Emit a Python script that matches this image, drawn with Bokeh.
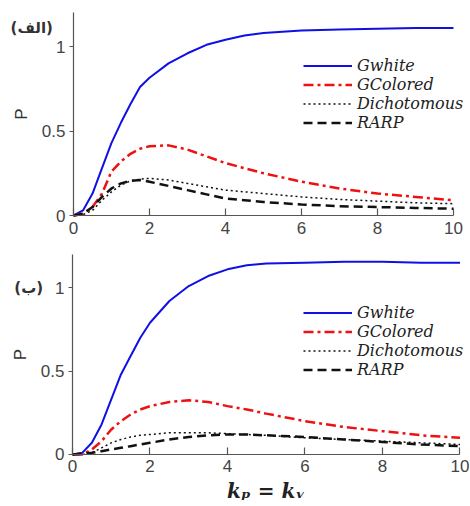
from bokeh.plotting import figure
from bokeh.models import Legend, LegendItem, Label, FixedTicker, Range1d
from bokeh.layouts import column
from bokeh.embed import file_html
from bokeh.resources import INLINE

# ---- data ----
x = [0, 0.25, 0.5, 0.75, 1, 1.25, 1.5, 1.75, 2, 2.5, 3, 3.5, 4, 4.5, 5, 6, 7, 8, 9, 10]

top_gwhite = [0, 0.03, 0.13, 0.28, 0.43, 0.55, 0.66, 0.76, 0.815, 0.90, 0.96, 1.01, 1.04, 1.065, 1.08, 1.095, 1.10, 1.105, 1.11, 1.11]
top_gcolored = [0, 0.01, 0.05, 0.13, 0.26, 0.32, 0.365, 0.395, 0.41, 0.415, 0.39, 0.35, 0.31, 0.28, 0.25, 0.20, 0.16, 0.13, 0.11, 0.09]
top_dicho = [0, 0.005, 0.03, 0.09, 0.14, 0.18, 0.205, 0.215, 0.22, 0.21, 0.19, 0.17, 0.15, 0.14, 0.13, 0.11, 0.095, 0.085, 0.075, 0.07]
top_rarp = [0, 0.01, 0.05, 0.11, 0.16, 0.19, 0.205, 0.21, 0.20, 0.175, 0.15, 0.125, 0.10, 0.09, 0.08, 0.065, 0.055, 0.05, 0.045, 0.04]

bot_gwhite = [0, 0.01, 0.07, 0.18, 0.33, 0.48, 0.59, 0.70, 0.79, 0.92, 1.01, 1.07, 1.11, 1.135, 1.145, 1.15, 1.155, 1.155, 1.15, 1.15]
bot_gcolored = [0, 0.0, 0.03, 0.08, 0.15, 0.20, 0.24, 0.27, 0.29, 0.315, 0.325, 0.315, 0.29, 0.27, 0.245, 0.20, 0.165, 0.14, 0.115, 0.10]
bot_dicho = [0, 0.0, 0.01, 0.04, 0.07, 0.09, 0.105, 0.115, 0.12, 0.13, 0.13, 0.13, 0.125, 0.12, 0.115, 0.10, 0.09, 0.08, 0.07, 0.06]
bot_rarp = [0, 0.005, 0.01, 0.02, 0.03, 0.04, 0.05, 0.06, 0.07, 0.09, 0.105, 0.115, 0.12, 0.12, 0.115, 0.105, 0.09, 0.075, 0.06, 0.05]

series_names = ["Gwhite", "GColored", "Dichotomous", "RARP"]
x_ticks = [0, 2, 4, 6, 8, 10]
y_ticks = [0, 0.5, 1]
panel_labels = ["(الف)", "(ب)"]
x_label = "kₚ = kᵥ"
y_label = "P"

styles = [
    dict(color="#1010e6", line_width=2, line_dash="solid"),
    dict(color="#ee1111", line_width=2.5, line_dash="10 4 3 4"),
    dict(color="#111111", line_width=1.5, line_dash="2 3"),
    dict(color="#111111", line_width=2.5, line_dash="9 5"),
]


def make_panel(ys, height, xr, yr, label_text, label_xy, legend_loc, show_xlabel):
    p = figure(width=470, height=height, output_backend="svg", toolbar_location=None,
               x_range=Range1d(*xr), y_range=Range1d(*yr),
               min_border_left=0, min_border_right=0,
               min_border_top=0, min_border_bottom=0)
    p.outline_line_color = None
    p.xgrid.visible = False
    p.ygrid.visible = False
    p.background_fill_color = "white"

    rs = []
    for yv, st in zip(ys, styles):
        rs.append(p.line(x, yv, **st))

    items = [LegendItem(label=n, renderers=[r]) for n, r in zip(series_names, rs)]
    leg = Legend(items=items, location=legend_loc, padding=0, spacing=0,
                 label_height=19, glyph_height=19, glyph_width=49, label_standoff=5,
                 border_line_color=None, background_fill_alpha=0,
                 label_text_font="DejaVu Serif", label_text_font_style="italic",
                 label_text_font_size="16px", label_text_color="#222222")
    p.add_layout(leg, "center")

    for ax in (p.xaxis, p.yaxis):
        ax.fixed_location = 0
        ax.axis_line_color = "#555555"
        ax.axis_line_width = 1.2
        ax.major_tick_line_color = "#555555"
        ax.major_tick_line_width = 1.2
        ax.minor_tick_line_color = None
        ax.major_label_text_font = "Liberation Sans"
        ax.major_label_text_font_size = "17px"
        ax.major_label_text_color = "#444444"

    p.xaxis.bounds = (0, 10)
    p.xaxis.ticker = FixedTicker(ticks=x_ticks)
    p.xaxis.major_tick_in = 7
    p.xaxis.major_tick_out = 0
    p.xaxis.major_label_standoff = 6

    p.yaxis.bounds = (0, 1.2)
    p.yaxis.ticker = FixedTicker(ticks=y_ticks)
    p.yaxis.major_label_overrides = {0: "0", 0.5: "0.5", 1: "1"}
    p.yaxis.major_tick_in = 0
    p.yaxis.major_tick_out = 4
    p.yaxis.major_label_standoff = 4
    p.yaxis.axis_label = y_label
    p.yaxis.axis_label_standoff = 8
    p.yaxis.axis_label_text_font = "Liberation Sans"
    p.yaxis.axis_label_text_font_style = "normal"
    p.yaxis.axis_label_text_font_size = "17px"
    p.yaxis.axis_label_text_color = "#333333"

    if show_xlabel:
        p.xaxis.axis_label = x_label
        p.xaxis.axis_label_standoff = 3
        p.xaxis.axis_label_text_font = "DejaVu Serif"
        p.xaxis.axis_label_text_font_style = "bold italic"
        p.xaxis.axis_label_text_font_size = "20px"
        p.xaxis.axis_label_text_color = "#222222"

    p.add_layout(Label(x=label_xy[0], y=label_xy[1], text=label_text,
                       text_font="DejaVu Sans", text_font_size="15px",
                       text_font_style="bold", text_color="#333333",
                       text_align="center", text_baseline="middle"))
    return p


p1 = make_panel([top_gwhite, top_gcolored, top_dicho, top_rarp], 250,
                (-1.921, 10.447), (-0.2071, 1.2722),
                panel_labels[0], (-1.1, 1.107), (303, 118), False)
p2 = make_panel([bot_gwhite, bot_gcolored, bot_dicho, bot_rarp], 256,
                (-1.858, 10.271), (-0.3118, 1.223),
                panel_labels[1], (-1.13, 1.0), (303, 127), True)

layout = column(p1, p2, spacing=0)
open("out.html", "w").write(file_html(layout, INLINE))
